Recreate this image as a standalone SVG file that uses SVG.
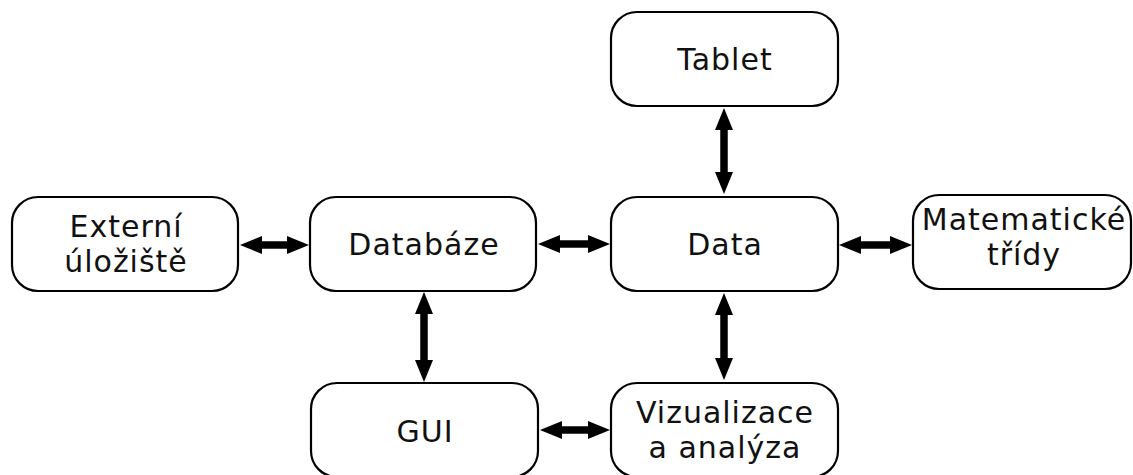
<svg xmlns="http://www.w3.org/2000/svg" width="1133" height="475" viewBox="0 0 1133 475">
<style>
.box{fill:#fff;stroke:#000;stroke-width:2.2}
.t{font-family:"DejaVu Sans",Verdana,sans-serif;font-size:30px;letter-spacing:1px;fill:#111;text-anchor:middle}
.c{stroke:#000;stroke-width:7.5;fill:none;marker-start:url(#ah);marker-end:url(#ah)}
</style>
<defs>
<marker id="ah" markerUnits="userSpaceOnUse" markerWidth="24" markerHeight="20" viewBox="0 0 24 20" refX="2" refY="9" orient="auto-start-reverse">
<path d="M0,0 L22,9 L0,18 z" fill="#000"/>
</marker>
</defs>
<rect width="1133" height="475" fill="#fff"/>
<g id="connectors">
<line class="c" x1="260" y1="245" x2="289" y2="245"/>
<line class="c" x1="558" y1="244" x2="590" y2="244"/>
<line class="c" x1="859" y1="245" x2="892" y2="245"/>
<line class="c" x1="560" y1="430" x2="590" y2="430"/>
<line class="c" x1="724" y1="128" x2="724" y2="174"/>
<line class="c" x1="724" y1="313" x2="724" y2="360"/>
<line class="c" x1="424" y1="312" x2="424" y2="362"/>
</g>
<g id="tablet">
<rect class="box" x="611" y="12" width="227" height="94" rx="26"/>
<text class="t" x="725" y="69.5">Tablet</text>
</g>
<g id="externi">
<rect class="box" x="12" y="197" width="226" height="94" rx="26"/>
<text class="t" x="126" y="236.5">Externí</text>
<text class="t" x="126" y="272">úložiště</text>
</g>
<g id="databaze">
<rect class="box" x="310" y="197" width="226" height="94" rx="26"/>
<text class="t" x="424" y="254.5">Databáze</text>
</g>
<g id="data">
<rect class="box" x="611" y="197" width="227" height="94" rx="26"/>
<text class="t" x="725" y="254.5">Data</text>
</g>
<g id="matematicke">
<rect class="box" x="913" y="195" width="218" height="94" rx="26"/>
<text class="t" x="1024" y="229.5">Matematické</text>
<text class="t" x="1024" y="265">třídy</text>
</g>
<g id="gui">
<rect class="box" x="311" y="383" width="227" height="94" rx="26"/>
<text class="t" x="425" y="441.5">GUI</text>
</g>
<g id="vizualizace">
<rect class="box" x="611" y="383" width="227" height="94" rx="26"/>
<text class="t" x="725" y="422.5">Vizualizace</text>
<text class="t" x="725" y="458">a analýza</text>
</g>
</svg>
